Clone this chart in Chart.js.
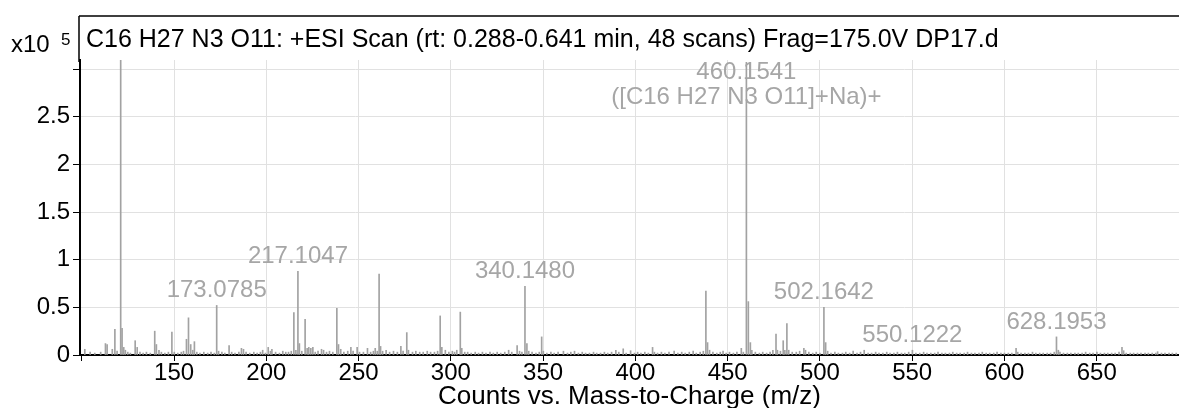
<!DOCTYPE html>
<html>
<head>
<meta charset="utf-8">
<script src="https://cdn.jsdelivr.net/npm/chart.js@4.4.1/dist/chart.umd.min.js"></script>
<style>
  html, body { margin: 0; padding: 0; background: #fff; }
</style>
</head>
<body>
<canvas id="spec" width="1179" height="408"></canvas>
<script>
// ── spectrum sticks (m/z, counts in x10^5)
const mz = [
  101.6, 104.5, 107.0, 110.2, 112.8, 113.7, 116.5, 117.9, 119.1, 121.05,
  121.8, 122.7, 123.6, 124.9, 126.3, 128.9, 130.0, 131.5, 133.2, 135.0,
  137.1, 139.5, 140.4, 141.8, 143.1, 145.0, 146.9, 148.8, 150.1, 152.0,
  153.9, 155.1, 156.7, 157.8, 159.0, 160.1, 161.0, 162.3, 164.0, 166.1,
  168.2, 170.0, 171.8, 173.08, 174.1, 175.9, 177.5, 179.8, 181.2, 183.0,
  185.1, 186.5, 187.6, 189.0, 191.0, 193.2, 195.0, 196.8, 198.0, 199.5,
  201.0, 202.2, 203.0, 205.0, 207.1, 208.9, 210.5, 212.0, 213.5, 214.9,
  216.0, 217.1, 217.9, 219.2, 221.0, 222.1, 223.0, 224.1, 225.2, 226.5,
  228.0, 229.9, 231.0, 232.6, 234.2, 236.0, 238.2, 239.1, 240.3, 242.0,
  244.1, 245.8, 247.0, 249.2, 250.5, 252.6, 254.8, 256.5, 258.0, 259.0,
  260.1, 261.1, 261.9, 263.0, 264.9, 266.8, 268.9, 271.0, 272.9, 274.1,
  276.1, 277.0, 279.2, 281.0, 283.1, 285.0, 287.2, 289.0, 291.1, 292.8,
  294.2, 295.1, 297.0, 298.9, 300.8, 302.0, 303.2, 305.1, 305.9, 307.5,
  309.1, 311.0, 313.2, 315.0, 317.1, 319.0, 321.2, 323.0, 325.1, 327.0,
  329.2, 331.3, 333.0, 335.9, 337.2, 338.5, 340.15, 341.2, 342.2, 344.0,
  346.1, 347.9, 349.2, 350.1, 352.0, 354.2, 356.0, 358.1, 361.0, 363.2,
  365.0, 367.0, 369.1, 371.2, 373.0, 375.1, 377.3, 379.0, 381.1, 383.2,
  385.0, 387.1, 389.4, 391.0, 393.4, 395.0, 397.4, 399.5, 401.2, 403.0,
  405.1, 407.0, 409.3, 410.3, 412.0, 414.1, 416.0, 418.2, 421.0, 423.0,
  425.1, 427.0, 429.2, 431.3, 433.0, 435.1, 436.8, 438.2, 439.1, 440.2,
  442.0, 444.1, 446.0, 447.5, 449.2, 451.0, 453.1, 455.0, 457.4, 458.5,
  460.15, 461.2, 462.3, 463.1, 465.0, 467.2, 469.0, 471.1, 473.0, 474.5,
  476.2, 477.0, 478.6, 480.1, 481.0, 482.1, 483.1, 485.0, 487.2, 489.0,
  491.3, 492.2, 494.0, 496.1, 498.0, 500.0, 502.16, 503.1, 504.2, 506.0,
  508.1, 510.0, 512.2, 514.0, 516.1, 518.0, 520.1, 522.0, 524.0, 526.1,
  528.0, 530.2, 532.0, 534.1, 536.2, 538.0, 540.1, 542.0, 544.2, 546.0,
  548.1, 550.12, 552.0, 554.1, 556.2, 558.0, 560.1, 562.2, 564.0, 566.1,
  568.0, 570.2, 572.0, 574.1, 576.0, 578.2, 580.0, 582.1, 584.0, 586.2,
  588.0, 590.1, 592.0, 594.2, 596.0, 598.1, 600.0, 602.1, 604.0, 606.3,
  607.2, 609.0, 611.1, 613.0, 615.2, 617.0, 619.1, 621.0, 623.2, 625.0,
  627.0, 628.2, 629.2, 630.1, 632.0, 634.1, 636.0, 638.2, 640.0, 642.1,
  644.0, 646.2, 648.0, 650.1, 652.0, 654.2, 656.0, 658.1, 660.0, 662.1,
  663.7, 664.6, 666.0, 668.2, 670.0, 672.1, 674.0, 676.2, 678.0, 680.1,
  682.0, 683.0, 685.1, 687.0, 689.2, 691.0, 693.1
];
const counts = [
  0.06, 0.03, 0.02, 0.03, 0.12, 0.11, 0.06, 0.27, 0.04, 3.30,
  0.28, 0.08, 0.05, 0.03, 0.02, 0.15, 0.08, 0.03, 0.02, 0.03,
  0.02, 0.25, 0.11, 0.05, 0.03, 0.02, 0.03, 0.24, 0.03, 0.02,
  0.03, 0.04, 0.165, 0.39, 0.11, 0.05, 0.14, 0.03, 0.02, 0.03,
  0.02, 0.03, 0.02, 0.52, 0.04, 0.03, 0.02, 0.10, 0.03, 0.02,
  0.03, 0.07, 0.06, 0.03, 0.02, 0.03, 0.02, 0.03, 0.05, 0.02,
  0.08, 0.04, 0.06, 0.03, 0.02, 0.04, 0.03, 0.03, 0.04, 0.445,
  0.05, 0.877, 0.12, 0.04, 0.375, 0.07, 0.08, 0.07, 0.08, 0.03,
  0.04, 0.06, 0.05, 0.03, 0.04, 0.03, 0.49, 0.11, 0.06, 0.03,
  0.04, 0.08, 0.04, 0.08, 0.03, 0.03, 0.07, 0.03, 0.04, 0.07,
  0.04, 0.85, 0.09, 0.04, 0.05, 0.03, 0.04, 0.03, 0.09, 0.04,
  0.235, 0.05, 0.03, 0.04, 0.03, 0.03, 0.04, 0.03, 0.03, 0.04,
  0.41, 0.08, 0.05, 0.03, 0.04, 0.03, 0.05, 0.45, 0.07, 0.03,
  0.03, 0.02, 0.03, 0.02, 0.03, 0.02, 0.03, 0.02, 0.03, 0.02,
  0.03, 0.05, 0.03, 0.10, 0.04, 0.03, 0.72, 0.12, 0.04, 0.03,
  0.02, 0.03, 0.19, 0.04, 0.02, 0.03, 0.02, 0.03, 0.04, 0.02,
  0.03, 0.04, 0.02, 0.03, 0.02, 0.02, 0.03, 0.02, 0.02, 0.03,
  0.02, 0.03, 0.05, 0.03, 0.065, 0.02, 0.045, 0.02, 0.03, 0.02,
  0.03, 0.02, 0.08, 0.03, 0.02, 0.03, 0.02, 0.03, 0.04, 0.02,
  0.03, 0.02, 0.03, 0.04, 0.02, 0.03, 0.04, 0.67, 0.13, 0.05,
  0.03, 0.02, 0.03, 0.04, 0.02, 0.03, 0.02, 0.03, 0.07, 0.03,
  3.07, 0.56, 0.13, 0.05, 0.03, 0.02, 0.03, 0.02, 0.03, 0.05,
  0.22, 0.05, 0.04, 0.15, 0.05, 0.33, 0.05, 0.03, 0.03, 0.04,
  0.07, 0.05, 0.03, 0.02, 0.03, 0.02, 0.50, 0.13, 0.04, 0.02,
  0.03, 0.02, 0.02, 0.03, 0.02, 0.04, 0.02, 0.03, 0.05, 0.02,
  0.02, 0.03, 0.02, 0.02, 0.03, 0.02, 0.02, 0.03, 0.02, 0.02,
  0.03, 0.05, 0.02, 0.02, 0.03, 0.02, 0.02, 0.02, 0.03, 0.02,
  0.02, 0.02, 0.03, 0.02, 0.02, 0.02, 0.03, 0.02, 0.02, 0.02,
  0.03, 0.02, 0.02, 0.02, 0.03, 0.02, 0.02, 0.02, 0.02, 0.07,
  0.03, 0.02, 0.02, 0.02, 0.03, 0.02, 0.02, 0.02, 0.02, 0.02,
  0.03, 0.19, 0.05, 0.03, 0.02, 0.02, 0.02, 0.02, 0.02, 0.02,
  0.03, 0.02, 0.02, 0.03, 0.02, 0.02, 0.02, 0.02, 0.02, 0.03,
  0.08, 0.045, 0.02, 0.02, 0.02, 0.02, 0.02, 0.02, 0.02, 0.02,
  0.02, 0.035, 0.02, 0.02, 0.02, 0.02, 0.02
];

// ── axes
const xTicks = [100, 150, 200, 250, 300, 350, 400, 450, 500, 550, 600, 650];
const xTickLabels = ["", "150", "200", "250", "300", "350", "400", "450", "500", "550", "600", "650"];
const yTicks = [0, 0.5, 1, 1.5, 2, 2.5, 3];
const yTickLabels = ["0", "0.5", "1", "1.5", "2", "2.5", ""];

// ── annotated peaks
const peakMz = [173.0785, 217.1047, 340.148, 460.1541, 502.1642, 550.1222, 628.1953];
const peakText = [
  ["173.0785"],
  ["217.1047"],
  ["340.1480"],
  ["460.1541", "([C16 H27 N3 O11]+Na)+"],
  ["502.1642"],
  ["550.1222"],
  ["628.1953"],
];

const titleText = "C16 H27 N3 O11: +ESI Scan (rt: 0.288-0.641 min, 48 scans) Frag=175.0V DP17.d";
const FONT = "'Liberation Sans', Arial, Helvetica, sans-serif";

// nearest stick height for a labelled peak
function heightAt(m) {
  let best = 0;
  mz.forEach((v, i) => {
    if (Math.abs(v - m) < Math.abs(mz[best] - m)) best = i;
  });
  return counts[best];
}

const decor = {
  id: "decor",
  afterDraw(chart) {
    const { ctx, chartArea: a, scales } = chart;
    const x = scales.x, y = scales.y;
    ctx.save();

    // frame: top line + left edge above plot area
    ctx.strokeStyle = "#000";
    ctx.lineWidth = 1.5;
    ctx.beginPath();
    ctx.moveTo(a.left - 1, 16);
    ctx.lineTo(chart.width, 16);
    ctx.moveTo(a.left - 1, 16);
    ctx.lineTo(a.left - 1, a.top + 2);
    ctx.stroke();

    // header
    ctx.fillStyle = "#000";
    ctx.textBaseline = "middle";
    ctx.textAlign = "left";
    ctx.font = `25px ${FONT}`;
    ctx.fillText(titleText, a.left + 6, 40);
    ctx.font = `24px ${FONT}`;
    ctx.fillText("x10", 11, 45);
    ctx.font = `17px ${FONT}`;
    ctx.fillText("5", 61, 40);

    // peak labels
    ctx.fillStyle = "#a6a6a6";
    ctx.textAlign = "center";
    ctx.font = `24px ${FONT}`;
    peakMz.forEach((m, i) => {
      const lines = peakText[i];
      const px = x.getPixelForValue(m);
      const top = y.getPixelForValue(Math.min(heightAt(m), y.max));
      let ly = top - 15 - (lines.length - 1) * 25;
      if (ly < a.top + 12) ly = a.top + 12;
      lines.forEach((t, k) => ctx.fillText(t, px, ly + k * 25));
    });
    ctx.restore();
  },
};

new Chart(document.getElementById("spec"), {
  type: "bar",
  data: {
    datasets: [
      {
        data: mz.map((m, i) => ({ x: m, y: counts[i] })),
        backgroundColor: "#a2a2a2",
        barThickness: 1,
        grouped: false,
      },
    ],
  },
  options: {
    responsive: false,
    animation: false,
    devicePixelRatio: 1,
    layout: { padding: { top: 60, left: 0, right: 0, bottom: 0 } },
    plugins: { legend: { display: false }, tooltip: { enabled: false } },
    scales: {
      x: {
        type: "linear",
        min: 99,
        max: 694.6,
        offset: false,
        grid: {
          offset: false,
          color: (c) => (c.tick && c.tick.value === 100 ? "rgba(0,0,0,0)" : "#e1e1e1"),
          tickColor: "#000",
          tickLength: 6,
          tickWidth: 1,
        },
        border: { display: true, color: "#000", width: 2 },
        afterBuildTicks: (s) => { s.ticks = xTicks.map((v) => ({ value: v })); },
        afterFit: (s) => { s.height = 53; },
        ticks: {
          autoSkip: false,
          maxRotation: 0,
          padding: 0,
          color: "#000",
          font: { family: FONT, size: 24, lineHeight: 1 },
          callback: (v) => xTickLabels[xTicks.indexOf(v)],
        },
        title: {
          display: true,
          text: "Counts vs. Mass-to-Charge (m/z)",
          color: "#000",
          font: { family: FONT, size: 26, lineHeight: 1 },
          padding: { top: 0, bottom: -2 },
        },
      },
      y: {
        min: 0,
        max: 3.095,
        grid: {
          color: "#e1e1e1",
          tickColor: "#000",
          tickLength: 7,
          tickWidth: 1,
        },
        border: { display: true, color: "#000", width: 2 },
        afterBuildTicks: (s) => { s.ticks = yTicks.map((v) => ({ value: v })); },
        afterFit: (s) => { s.width = 80; },
        ticks: {
          padding: 3,
          color: "#000",
          font: { family: FONT, size: 24, lineHeight: 1 },
          callback: (v) => yTickLabels[yTicks.indexOf(v)],
        },
      },
    },
  },
  plugins: [decor],
});
</script>
</body>
</html>
